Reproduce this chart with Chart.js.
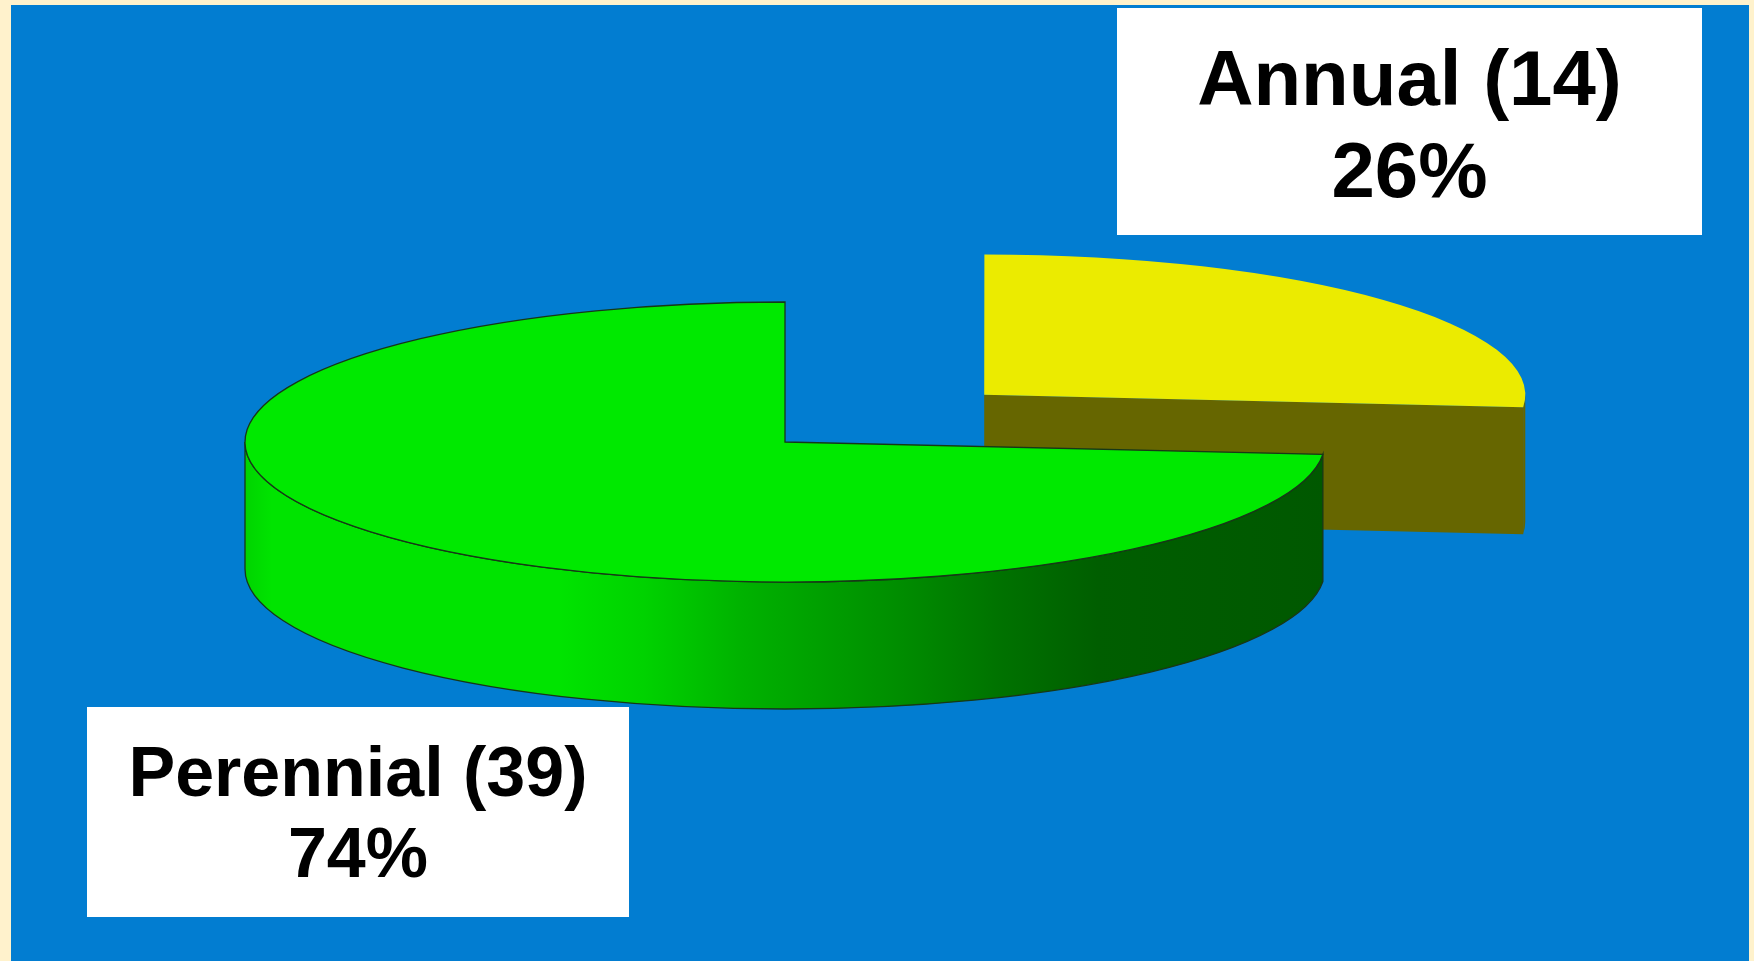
<!DOCTYPE html>
<html>
<head>
<meta charset="utf-8">
<title>Annual vs Perennial</title>
<script src="https://cdn.jsdelivr.net/npm/chart.js@4"></script>
<style>
  body { margin: 0; background: #fff2cc; font-family: "Liberation Sans", Arial, sans-serif; }
  #panel { position: absolute; left: 11px; top: 5px; width: 1738px; height: 956px; background: #027dd1; }
  #pie { position: absolute; left: 0; top: 0; }
  .tag { position: absolute; background: #fff; color: #000; text-align: center; font-weight: bold; white-space: nowrap; }
</style>
</head>
<body>
<div id="panel"></div>
<canvas id="pie" width="1754" height="961"></canvas>
<div id="tag0" class="tag" style="left:1117px; top:8px; width:585px; height:203px; padding-top:24px; font-size:78px; line-height:92px;"></div>
<div id="tag1" class="tag" style="left:87px; top:707px; width:542px; height:185px; padding-top:25px; font-size:70px; line-height:81px;"></div>
<script>
// chart values
const categories = ['Annual', 'Perennial'];
const counts = [14, 39];

// colours
const topColors = ['#ebeb00', '#00e900'];
const sideColors = ['#666600', '#005a00'];
const edgeColor = '#173817';
// the perennial side gets lighter to the left
const greenShade = [[0, '#00d400'], [0.025, '#00e400'], [0.29, '#00e400'], [0.37, '#00d200'],
                    [0.46, '#00b200'], [0.61, '#008c00'], [0.70, '#007200'], [0.79, '#005e00'], [1, '#005800']];

const tilt = 0.2593;   // how flat the disc looks
const depth = 127;     // thickness of the disc, px

// label boxes
const total = counts.reduce((a, b) => a + b, 0);
categories.forEach((name, i) => {
    const pct = Math.round(counts[i] / total * 100);
    document.getElementById('tag' + i).innerHTML = name + ' (' + counts[i] + ')<br>' + pct + '%';
});

// screen geometry of one slice after squashing
function sliceGeom(arc) {
    const p = arc.getProps(['x', 'y', 'startAngle', 'endAngle', 'outerRadius', 'circumference']);
    const off = (arc.options.offset || 0) / 4;
    const mid = (p.startAngle + p.endAngle) / 2;
    const fix = 1 - Math.sin(Math.min(Math.PI, p.circumference));
    const r = p.outerRadius + off * fix;
    return {
        cx: p.x + Math.cos(mid) * off,
        cy: p.y + Math.sin(mid) * off * tilt,
        rx: r, ry: r * tilt,
        a0: p.startAngle, a1: p.endAngle,
        ox: p.x, oy: p.y
    };
}

function sideFill(ctx, g, i) {
    if (i !== 1) return sideColors[i];
    const grad = ctx.createLinearGradient(g.cx - g.rx, 0, g.cx + g.rx, 0);
    greenShade.forEach(s => grad.addColorStop(s[0], s[1]));
    return grad;
}

function drawFace(ctx, g, a) {
    const px = g.cx + g.rx * Math.cos(a), py = g.cy + g.ry * Math.sin(a);
    ctx.beginPath();
    ctx.moveTo(g.cx, g.cy);
    ctx.lineTo(px, py);
    ctx.lineTo(px, py + depth);
    ctx.lineTo(g.cx, g.cy + depth);
    ctx.closePath();
    ctx.fill();
}

const disc3d = {
    id: 'disc3d',
    beforeDatasetsDraw(chart) {
        const ctx = chart.ctx;
        const arcs = chart.getDatasetMeta(0).data;
        ctx.save();
        arcs.forEach((arc, i) => {
            const g = sliceGeom(arc);
            ctx.fillStyle = sideColors[i];
            // cut faces that turn towards the viewer
            if (Math.cos(g.a1) > 0.01) drawFace(ctx, g, g.a1);
            if (Math.cos(g.a0) < -0.01) drawFace(ctx, g, g.a0);
            // outer wall, front half only
            const a = Math.max(g.a0, 0), b = Math.min(g.a1, Math.PI);
            if (b > a) {
                ctx.beginPath();
                ctx.ellipse(g.cx, g.cy, g.rx, g.ry, 0, a, b, false);
                ctx.lineTo(g.cx + g.rx * Math.cos(b), g.cy + g.ry * Math.sin(b) + depth);
                ctx.ellipse(g.cx, g.cy + depth, g.rx, g.ry, 0, b, a, true);
                ctx.closePath();
                ctx.fillStyle = sideFill(ctx, g, i);
                ctx.fill();
                if (i === 1) {
                    ctx.strokeStyle = edgeColor;
                    ctx.lineWidth = 1.3;
                    ctx.stroke();
                }
            }
        });
        ctx.restore();

        // squash the pie tops into ellipses
        const g0 = sliceGeom(arcs[0]);
        ctx.save();
        ctx.translate(g0.ox, g0.oy);
        ctx.scale(1, tilt);
        ctx.translate(-g0.ox, -g0.oy);
    },
    afterDatasetsDraw(chart) {
        const ctx = chart.ctx;
        ctx.restore();
        // dark rim around the perennial top
        const g = sliceGeom(chart.getDatasetMeta(0).data[1]);
        ctx.save();
        ctx.beginPath();
        ctx.moveTo(g.cx, g.cy);
        ctx.ellipse(g.cx, g.cy, g.rx, g.ry, 0, g.a0, g.a1, false);
        ctx.closePath();
        ctx.strokeStyle = edgeColor;
        ctx.lineWidth = 1.3;
        ctx.stroke();
        ctx.restore();
    }
};

new Chart(document.getElementById('pie'), {
    type: 'pie',
    data: {
        labels: categories,
        datasets: [{
            data: counts,
            backgroundColor: topColors,
            borderWidth: 0,
            offset: [1080, 0],
            clip: false
        }]
    },
    options: {
        responsive: false,
        animation: false,
        events: [],
        radius: 540,
        cutout: '0%',
        rotation: 0,
        layout: { padding: { left: 0, right: 184, top: 0, bottom: 77 } },
        plugins: {
            legend: { display: false },
            tooltip: { enabled: false }
        }
    },
    plugins: [disc3d]
});
</script>
</body>
</html>
